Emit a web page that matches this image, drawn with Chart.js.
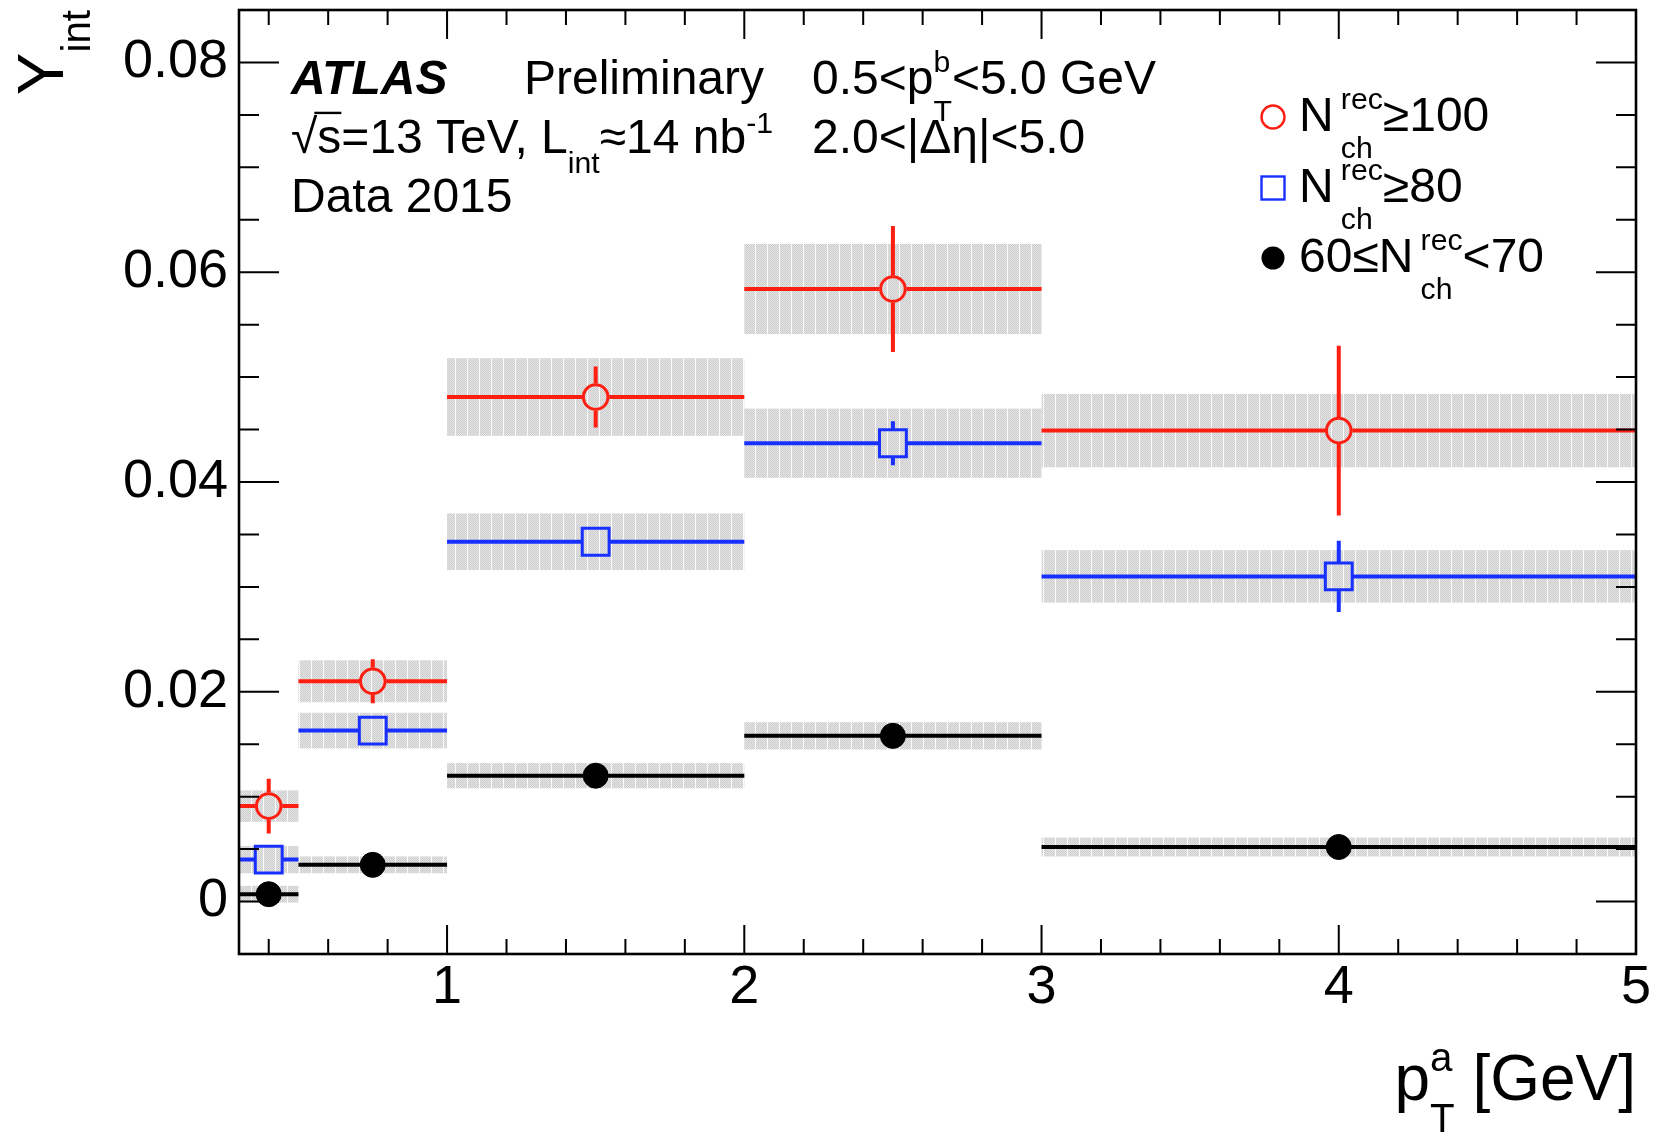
<!DOCTYPE html>
<html>
<head>
<meta charset="utf-8">
<title>Y_int vs pT</title>
<script src="https://cdn.jsdelivr.net/npm/chart.js@4.4.0/dist/chart.umd.min.js"></script>
<style>
  html, body { margin: 0; padding: 0; background: #fff; }
  #wrap { width: 1653px; height: 1135px; }
</style>
</head>
<body>
<div id="wrap"><canvas id="chart" width="1653" height="1135"></canvas></div>
<script>
// pT^a bins [GeV]
const binLow    = [0.3, 0.5, 1, 2, 3];
const binHigh   = [0.5, 1, 2, 3, 5];
const binCenter = [0.4, 0.75, 1.5, 2.5, 4];

// N_ch^rec >= 100
const n100Values = [0.0091, 0.0210, 0.0481, 0.0584, 0.0449];
const n100Stat   = [0.0026, 0.0021, 0.0029, 0.0060, 0.0081];
const n100Syst   = [0.0015, 0.0020, 0.0037, 0.0043, 0.0035];

// N_ch^rec >= 80
const n80Values = [0.0040, 0.0163, 0.0343, 0.0437, 0.0310];
const n80Stat   = [0.0008, 0.0010, 0.0012, 0.0021, 0.0034];
const n80Syst   = [0.0013, 0.0017, 0.0027, 0.0033, 0.0025];

// 60 <= N_ch^rec < 70
const n60Values = [0.0007, 0.0035, 0.0120, 0.0158, 0.0052];
const n60Stat   = [0.0005, 0.0006, 0.0008, 0.0009, 0.0009];
const n60Syst   = [0.0008, 0.0008, 0.0012, 0.0013, 0.0009];

const xTickLabels = [1, 2, 3, 4, 5];
const yTickLabels = [0, 0.02, 0.04, 0.06, 0.08];

const FONT = '"Liberation Sans", Arial, Helvetica, sans-serif';
const RED = '#ff1e12';
const BLUE = '#1830ff';

const toPoints = (vals) => vals.map((v, i) => ({ x: binCenter[i], y: v }));

// text with sub / superscripts, ROOT latex style
function richText(ctx, x, y, parts, size, draw = true) {
    let cx = x;
    const small = size * 0.63;
    for (const p of parts) {
        if (typeof p === 'string') {
            ctx.font = `${size}px ${FONT}`;
            if (draw) ctx.fillText(p, cx, y);
            cx += ctx.measureText(p).width;
        } else {
            ctx.font = `${small}px ${FONT}`;
            const pre = (p.gap || 0) * size;
            let w = 0;
            if (p.sup) {
                if (draw) ctx.fillText(p.sup, cx + pre, y - size * (p.sub ? 0.46 : 0.42));
                w = Math.max(w, ctx.measureText(p.sup).width);
            }
            if (p.sub) {
                if (draw) ctx.fillText(p.sub, cx + pre, y + size * (p.sup ? (p.subOff || 0.56) : 0.42));
                w = Math.max(w, ctx.measureText(p.sub).width);
            }
            cx += pre + w;
        }
    }
    return cx - x;
}

let systFill = null;
function getSystFill(ctx) {
    if (systFill) return systFill;
    const c = document.createElement('canvas');
    c.width = 12; c.height = 4;
    const g = c.getContext('2d');
    g.fillStyle = '#e4e4e4';
    g.fillRect(0, 0, 12, 4);
    g.fillStyle = '#cdcdcd';
    for (let i = 0; i < 11; i++) {
        for (let j = 0; j < 4; j++) {
            if ((i + j) % 2 === 0) g.fillRect(i, j, 1, 1);
        }
    }
    g.fillStyle = '#fbfbfb';
    g.fillRect(11, 0, 1, 4);
    systFill = ctx.createPattern(c, 'repeat');
    return systFill;
}

const errorPlugin = {
    id: 'errorBands',
    beforeDatasetsDraw(chart) {
        const { ctx, chartArea: a, scales: { x, y } } = chart;
        ctx.save();
        ctx.beginPath();
        ctx.rect(a.left, a.top, a.right - a.left, a.bottom - a.top);
        ctx.clip();

        // systematic boxes
        ctx.fillStyle = getSystFill(ctx);
        chart.data.datasets.forEach(ds => {
            ds.data.forEach((p, i) => {
                const x0 = x.getPixelForValue(binLow[i]);
                const x1 = x.getPixelForValue(binHigh[i]);
                const y0 = y.getPixelForValue(p.y + ds.syst[i]);
                const y1 = y.getPixelForValue(p.y - ds.syst[i]);
                ctx.fillRect(x0, y0, x1 - x0, y1 - y0);
            });
        });

        // bin width + statistical bars
        chart.data.datasets.forEach(ds => {
            ctx.strokeStyle = ds.borderColor;
            ctx.lineWidth = 4;
            ctx.lineCap = 'butt';
            const gap = ds.gap;
            ds.data.forEach((p, i) => {
                const cx = x.getPixelForValue(p.x);
                const cy = y.getPixelForValue(p.y);
                const x0 = x.getPixelForValue(binLow[i]);
                const x1 = x.getPixelForValue(binHigh[i]);
                const yTop = y.getPixelForValue(p.y + ds.stat[i]);
                const yBot = y.getPixelForValue(p.y - ds.stat[i]);
                ctx.beginPath();
                ctx.moveTo(x0, cy); ctx.lineTo(cx - gap, cy);
                ctx.moveTo(cx + gap, cy); ctx.lineTo(x1, cy);
                if (cy - yTop > gap) { ctx.moveTo(cx, yTop); ctx.lineTo(cx, cy - gap); }
                if (yBot - cy > gap) { ctx.moveTo(cx, cy + gap); ctx.lineTo(cx, yBot); }
                ctx.stroke();
            });
        });
        ctx.restore();
    }
};

const framePlugin = {
    id: 'rootFrame',
    afterDatasetsDraw(chart) {
        const { ctx, chartArea: a, scales: { x, y } } = chart;
        ctx.save();
        ctx.strokeStyle = '#000';
        ctx.lineWidth = 2;
        ctx.beginPath();
        // x ticks, inside, top and bottom
        for (let k = 2; k <= 24; k++) {
            const v = k / 5;
            const px = x.getPixelForValue(v);
            const len = (k % 5 === 0) ? 29 : 15;
            ctx.moveTo(px, a.bottom); ctx.lineTo(px, a.bottom - len);
            ctx.moveTo(px, a.top); ctx.lineTo(px, a.top + len);
        }
        // y ticks, inside, left and right
        for (let k = -1; k <= 17; k++) {
            const v = k * 0.005;
            const py = y.getPixelForValue(v);
            const len = (k % 4 === 0) ? 40 : 20;
            ctx.moveTo(a.left, py); ctx.lineTo(a.left + len, py);
            ctx.moveTo(a.right, py); ctx.lineTo(a.right - len, py);
        }
        ctx.stroke();
        ctx.lineWidth = 2.6;
        ctx.strokeRect(a.left, a.top, a.right - a.left, a.bottom - a.top);
        ctx.restore();
    }
};

const textPlugin = {
    id: 'annotations',
    afterDraw(chart) {
        const { ctx, chartArea: a } = chart;
        ctx.save();
        ctx.fillStyle = '#000';
        ctx.textBaseline = 'alphabetic';
        ctx.textAlign = 'left';

        // axis titles
        const xt = ['p', { sup: 'a', sub: 'T', subOff: 0.5 }, ' [GeV]'];
        const xw = richText(ctx, 0, 0, xt, 64, false);
        richText(ctx, a.right - xw, 1100, xt, 64);

        const yt = ['Y', { sub: 'int' }];
        const yw = richText(ctx, 0, 0, yt, 64, false);
        ctx.save();
        ctx.translate(63, 0);
        ctx.rotate(-Math.PI / 2);
        richText(ctx, -(10 + yw), 0, yt, 64);
        ctx.restore();

        // ATLAS label block
        const S = 48;
        ctx.font = `italic bold ${S}px ${FONT}`;
        ctx.fillText('ATLAS', 291, 94);
        ctx.font = `${S}px ${FONT}`;
        ctx.fillText('Preliminary', 524, 94);

        ctx.fillText('\u221A', 291, 153);
        const wr = ctx.measureText('\u221A').width;
        const ws = ctx.measureText('s').width;
        ctx.fillText('s', 291 + wr, 153);
        ctx.fillRect(291 + wr - 3, 153 - S * 0.86, ws + 3, 2.4);
        richText(ctx, 291 + wr + ws, 153, ['=13 TeV, L', { sub: 'int' }, '\u224814 nb', { sup: '-1' }], S);
        ctx.font = `${S}px ${FONT}`;
        ctx.fillText('Data 2015', 291, 212);

        richText(ctx, 812, 94, ['0.5<p', { sup: 'b', sub: 'T' }, '<5.0 GeV'], S);
        ctx.font = `${S}px ${FONT}`;
        ctx.fillText('2.0<|\u0394\u03B7|<5.0', 812, 153);

        // legend
        const lx = 1273;
        ctx.lineWidth = 2.4;
        ctx.strokeStyle = RED;
        ctx.beginPath(); ctx.arc(lx, 117, 11.5, 0, Math.PI * 2); ctx.stroke();
        richText(ctx, 1299, 131, ['N', { sup: 'rec', sub: 'ch', gap: 0.15 }, '\u2265100'], S);

        ctx.strokeStyle = BLUE;
        ctx.strokeRect(lx - 11.5, 188 - 11.5, 23, 23);
        richText(ctx, 1299, 202, ['N', { sup: 'rec', sub: 'ch', gap: 0.15 }, '\u226580'], S);

        ctx.fillStyle = '#000';
        ctx.beginPath(); ctx.arc(lx, 258, 11.5, 0, Math.PI * 2); ctx.fill();
        richText(ctx, 1299, 272, ['60\u2264N', { sup: 'rec', sub: 'ch', gap: 0.15 }, '<70'], S);

        ctx.restore();
    }
};

new Chart(document.getElementById('chart'), {
    type: 'scatter',
    data: {
        datasets: [
            {
                label: 'N_ch^rec >= 100',
                data: toPoints(n100Values),
                stat: n100Stat, syst: n100Syst, gap: 13.5,
                borderColor: RED,
                backgroundColor: 'rgba(0,0,0,0)',
                pointStyle: 'circle',
                pointRadius: 12.3,
                pointHoverRadius: 12.3,
                borderWidth: 3
            },
            {
                label: 'N_ch^rec >= 80',
                data: toPoints(n80Values),
                stat: n80Stat, syst: n80Syst, gap: 14,
                borderColor: BLUE,
                backgroundColor: 'rgba(0,0,0,0)',
                pointStyle: 'rect',
                pointRadius: 19,
                pointHoverRadius: 19,
                borderWidth: 3
            },
            {
                label: '60 <= N_ch^rec < 70',
                data: toPoints(n60Values),
                stat: n60Stat, syst: n60Syst, gap: 0,
                borderColor: '#000',
                backgroundColor: '#000',
                pointStyle: 'circle',
                pointRadius: 12.5,
                pointHoverRadius: 12.5,
                borderWidth: 1
            }
        ]
    },
    options: {
        responsive: false,
        animation: false,
        events: [],
        layout: { autoPadding: false, padding: { top: 10, right: 17, left: 0, bottom: 0 } },
        plugins: { legend: { display: false }, tooltip: { enabled: false } },
        scales: {
            x: {
                type: 'linear',
                min: 0.3,
                max: 5,
                grid: { display: false, drawTicks: false },
                border: { display: false },
                afterBuildTicks: (scale) => { scale.ticks = xTickLabels.map(v => ({ value: v })); },
                afterFit: (scale) => {
                    scale.height = 181;
                    scale.paddingLeft = 0;
                    scale.paddingRight = 0;
                },
                ticks: {
                    padding: 2,
                    maxRotation: 0,
                    color: '#000',
                    font: { family: FONT, size: 54 },
                    callback: (v) => String(v)
                }
            },
            y: {
                type: 'linear',
                min: -0.005,
                max: 0.085,
                grid: { display: false, drawTicks: false },
                border: { display: false },
                afterBuildTicks: (scale) => { scale.ticks = yTickLabels.map(v => ({ value: v })); },
                afterFit: (scale) => {
                    scale.width = 239;
                    scale.paddingTop = 0;
                    scale.paddingBottom = 0;
                },
                ticks: {
                    padding: 11,
                    color: '#000',
                    font: { family: FONT, size: 54 },
                    callback: (v) => v === 0 ? '0' : v.toFixed(2)
                }
            }
        }
    },
    plugins: [errorPlugin, framePlugin, textPlugin]
});
</script>
</body>
</html>
